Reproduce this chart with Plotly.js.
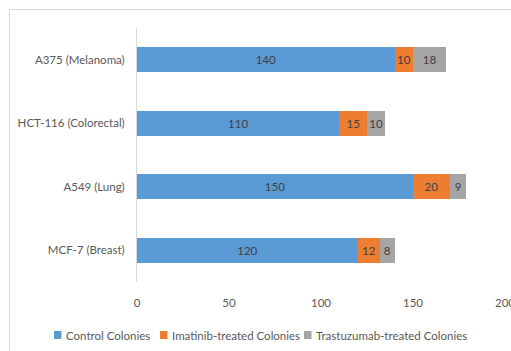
<!DOCTYPE html>
<html>
<head>
<meta charset="utf-8">
<script src="https://cdn.plot.ly/plotly-3.0.1.min.js"></script>
<style>html,body{margin:0;padding:0;background:#fff;}#chart{width:511px;height:351px;}</style>
</head>
<body>
<div id="chart"></div>
<script>
const categories = ["MCF-7 (Breast)", "A549 (Lung)", "HCT-116 (Colorectal)", "A375 (Melanoma)"];
const seriesNames = ["Control Colonies", "Imatinib-treated Colonies", "Trastuzumab-treated Colonies"];
const control = [120, 150, 110, 140];
const imatinib = [12, 20, 15, 10];
const trastuzumab = [8, 9, 10, 18];
const xTicks = [0, 50, 100, 150, 200];

const colors = ["#5B9BD5", "#ED7D31", "#A5A5A5"];
const font = "Lato, sans-serif";
const fsize = 11.5;
const values = [control, imatinib, trastuzumab];

const data = values.map((v, i) => ({
  type: "bar",
  orientation: "h",
  name: seriesNames[i],
  y: categories,
  x: v,
  text: v.map(String),
  textposition: "inside",
  insidetextanchor: "middle",
  textangle: 0,
  constraintext: "none",
  textfont: {family: font, size: fsize, color: "#404040"},
  marker: {color: colors[i]},
  hoverinfo: "x+name",
  showlegend: false
}));

const L = 137, T = 28, pw = 368, ph = 254;
const px = x => (x - L) / pw;
const py = y => (T + ph - y) / ph;

// legend placement (pixel positions of each entry's swatch, text follows it)
const legendSwatchX = [54, 160, 304];
const legendY = 335;
const shapes = [{
  type: "rect", xref: "paper", yref: "paper",
  x0: px(9.5), x1: px(530), y0: py(370), y1: py(9.5),
  line: {color: "#d9d9d9", width: 1},
  fillcolor: "rgba(0,0,0,0)", layer: "below"
}];
const annotations = [];
seriesNames.forEach((name, i) => {
  const sx = legendSwatchX[i];
  shapes.push({
    type: "rect", xref: "paper", yref: "paper",
    x0: px(sx), x1: px(sx + 7.5), y0: py(legendY + 4), y1: py(legendY - 4),
    line: {width: 0}, fillcolor: colors[i]
  });
  annotations.push({
    xref: "paper", yref: "paper", x: px(sx + 10), y: py(legendY),
    xanchor: "left", yanchor: "middle", showarrow: false,
    text: name, font: {family: font, size: fsize, color: "#595959"}
  });
});

const layout = {
  width: 511, height: 351,
  margin: {l: L, r: 511 - L - pw, t: T, b: 351 - T - ph, pad: 0, autoexpand: false},
  barmode: "stack",
  bargap: 0.6,
  paper_bgcolor: "#ffffff",
  plot_bgcolor: "#ffffff",
  font: {family: font, size: fsize, color: "#595959"},
  xaxis: {
    range: [0, 200],
    tickvals: xTicks,
    ticktext: xTicks.map(String),
    showgrid: false,
    zeroline: false,
    showline: false,
    ticks: "",
    ticklabelstandoff: 12,
    ticklabeloverflow: "allow",
    tickfont: {family: font, size: fsize, color: "#595959"},
    automargin: false
  },
  yaxis: {
    showgrid: false,
    zeroline: false,
    showline: true,
    linecolor: "#d9d9d9",
    linewidth: 1,
    ticks: "",
    ticklabelstandoff: 9,
    tickfont: {family: font, size: fsize, color: "#595959"},
    automargin: false
  },
  showlegend: false,
  shapes: shapes,
  annotations: annotations
};

Plotly.newPlot("chart", data, layout, {displayModeBar: false, staticPlot: true});
</script>
</body>
</html>
